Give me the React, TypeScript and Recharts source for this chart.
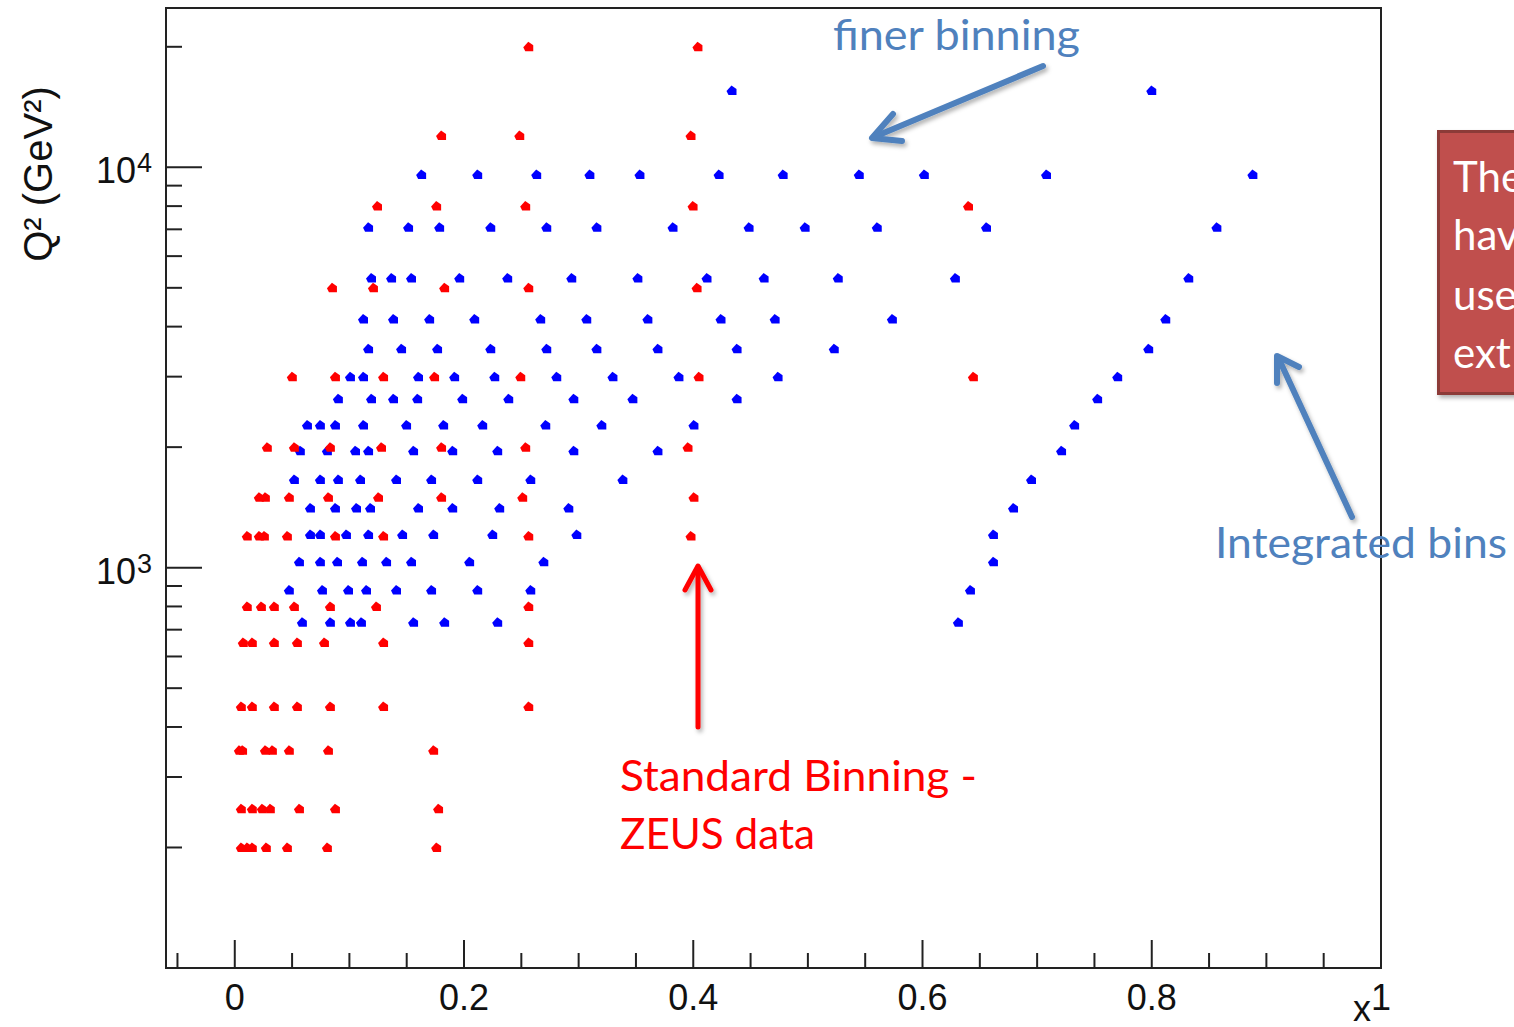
import React from 'react';
import { ScatterChart, Scatter, XAxis, YAxis, ReferenceArea } from 'recharts';

// ---------- data ----------
// Standard binning (ZEUS data), Q^2 rows in GeV^2
const redQ2 = [200, 250, 350, 450, 650, 800, 1200, 1500, 2000, 3000, 5000, 8000, 12000, 20000];
const redX200 = [0.0057, 0.0109, 0.0153, 0.0275, 0.0459, 0.0808, 0.1761];
const redX250 = [0.0057, 0.0153, 0.024, 0.031, 0.0564, 0.0878, 0.1778];
const redX350 = [0.004, 0.0068, 0.0267, 0.0328, 0.0476, 0.0817, 0.1735];
const redX450 = [0.0057, 0.0153, 0.0345, 0.0546, 0.0834, 0.1298, 0.2565];
const redX650 = [0.0074, 0.0153, 0.0345, 0.0546, 0.0782, 0.1298, 0.2565];
const redX800 = [0.0109, 0.0232, 0.0345, 0.052, 0.0834, 0.1236, 0.2565];
const redX1200 = [0.0109, 0.0214, 0.0258, 0.0459, 0.0878, 0.1298, 0.2565, 0.398];
const redX1500 = [0.0214, 0.0267, 0.0476, 0.0817, 0.1254, 0.1804, 0.2512, 0.4006];
const redX2000 = [0.0284, 0.052, 0.0834, 0.128, 0.1804, 0.2538, 0.3954];
const redX3000 = [0.0502, 0.0878, 0.1298, 0.1743, 0.2495, 0.405, 0.6444];
const redX5000 = [0.0852, 0.121, 0.1831, 0.2565, 0.4033];
const redX8000 = [0.1245, 0.1761, 0.2538, 0.3998, 0.6401];
const redX12000 = [0.1804, 0.2486, 0.398];
const redX20000 = [0.2565, 0.4041];
const redXRows = [redX200, redX250, redX350, redX450, redX650, redX800, redX1200, redX1500, redX2000, redX3000, redX5000, redX8000, redX12000, redX20000];

// Finer binning (incl. integrated bins at high x)
const blueQ2 = [730, 880, 1035, 1210, 1410, 1660, 1960, 2270, 2640, 3000, 3520, 4180, 5290, 7080, 9600, 15550];
const blueX730 = [0.059, 0.0834, 0.1009, 0.1105, 0.156, 0.1831, 0.2294, 0.6313];
const blueX880 = [0.0476, 0.0765, 0.0992, 0.1149, 0.1411, 0.1717, 0.2119, 0.2582, 0.6418];
const blueX1035 = [0.0564, 0.0747, 0.0896, 0.1114, 0.1324, 0.1542, 0.2049, 0.2696, 0.6619];
const blueX1210 = [0.066, 0.0747, 0.0974, 0.1167, 0.1464, 0.1735, 0.225, 0.2984, 0.6619];
const blueX1410 = [0.066, 0.0878, 0.1062, 0.1184, 0.1603, 0.1901, 0.2311, 0.2914, 0.6794];
const blueX1660 = [0.052, 0.0747, 0.0904, 0.1097, 0.1411, 0.1717, 0.2119, 0.2582, 0.3386, 0.6951];
const blueX1960 = [0.0572, 0.0808, 0.1053, 0.1167, 0.156, 0.1901, 0.2294, 0.2958, 0.3692, 0.7213];
const blueX2270 = [0.0634, 0.0747, 0.0878, 0.1123, 0.1499, 0.1822, 0.2163, 0.2713, 0.3202, 0.4006, 0.7327];
const blueX2640 = [0.0904, 0.1193, 0.1385, 0.1595, 0.1988, 0.239, 0.2958, 0.3473, 0.4382, 0.7528];
const blueX3000 = [0.1009, 0.1123, 0.1603, 0.1918, 0.2268, 0.2809, 0.3299, 0.3875, 0.474, 0.7703];
const blueX3520 = [0.1167, 0.1455, 0.1769, 0.2233, 0.2722, 0.3159, 0.3692, 0.4382, 0.523, 0.7973];
const blueX4180 = [0.1123, 0.1385, 0.17, 0.2093, 0.2669, 0.3071, 0.3604, 0.4242, 0.4714, 0.5737, 0.8122];
const blueX5290 = [0.1193, 0.1368, 0.1542, 0.1962, 0.2381, 0.294, 0.3517, 0.412, 0.4618, 0.5265, 0.6287, 0.8323];
const blueX7080 = [0.1167, 0.1516, 0.1787, 0.2233, 0.2722, 0.3159, 0.3823, 0.4487, 0.4976, 0.5605, 0.6558, 0.8568];
const blueX9600 = [0.163, 0.2119, 0.2634, 0.3098, 0.3535, 0.4225, 0.4784, 0.5448, 0.6016, 0.7082, 0.8882];
const blueX15550 = [0.4338, 0.8];
const blueXRows = [blueX730, blueX880, blueX1035, blueX1210, blueX1410, blueX1660, blueX1960, blueX2270, blueX2640, blueX3000, blueX3520, blueX4180, blueX5290, blueX7080, blueX9600, blueX15550];

// axis ticks
const xTicks = [-0.05, 0, 0.05, 0.1, 0.15, 0.2, 0.25, 0.3, 0.35, 0.4, 0.45, 0.5, 0.55, 0.6, 0.65, 0.7, 0.75, 0.8, 0.85, 0.9, 0.95, 1];
const xMajorLabels = ['0', '0.2', '0.4', '0.6', '0.8', '1'];
const yTicks = [200, 300, 400, 500, 600, 700, 800, 900, 1000, 2000, 3000, 4000, 5000, 6000, 7000, 8000, 9000, 10000, 20000];
const yMajor = [1000, 10000];

const redData = redQ2.flatMap((q, i) => redXRows[i].map((x) => ({ x, q })));
const blueData = blueQ2.flatMap((q, i) => blueXRows[i].map((x) => ({ x, q })));

const AXIS_FONT = 'Liberation Sans, Arial, Helvetica, sans-serif';
const NOTE_FONT = 'Lato, Open Sans, sans-serif';
const FRAME = '#222';
const NOTE_BLUE = '#4F81BD';

const makeMarker = (fill: string) => (props: any) => {
  const { cx, cy } = props;
  if (cx == null || cy == null) return <g />;
  const d = `M${cx - 5.5},${cy + 0.5} L${cx - 0.5},${cy - 5} L${cx + 4.5},${cy - 1.5} L${cx + 4.5},${cy + 4.5} L${cx - 3.5},${cy + 4.5} Z`;
  return <path d={d} fill={fill} />;
};

const YTick = (props: any) => {
  const { x, y, payload } = props;
  const v = payload.value;
  const major = yMajor.includes(v);
  const exp = Math.round(Math.log10(v));
  return (
    <g>
      <line x1={x} x2={x + (major ? 36 : 16)} y1={y} y2={y} stroke={FRAME} strokeWidth={2} />
      {major && (
        <g fontFamily={AXIS_FONT} fill="#111">
          <text x={x - 30} y={y + 16} textAnchor="end" fontSize={36}>10</text>
          <text x={x - 29} y={y + 5} textAnchor="start" fontSize={27}>{exp}</text>
        </g>
      )}
    </g>
  );
};

const XTick = (props: any) => {
  const { x, y, payload } = props;
  const v = payload.value;
  const major = Math.abs(v * 5 - Math.round(v * 5)) < 1e-6;
  const label = major ? xMajorLabels[Math.round(v * 5)] : '';
  return (
    <g>
      <line x1={x} x2={x} y1={y} y2={y - (major ? 28 : 15)} stroke={FRAME} strokeWidth={2} />
      {major && (
        <text x={x} y={y + 42} textAnchor="middle" fontSize={36} fontFamily={AXIS_FONT} fill="#111">{label}</text>
      )}
    </g>
  );
};

const Annotations = () => (
  <svg width={1514} height={1027} style={{ position: 'absolute', left: 0, top: 0, pointerEvents: 'none' }}>
    <defs>
      <filter id="shadow" x="-30%" y="-30%" width="160%" height="160%">
        <feDropShadow dx="2" dy="3" stdDeviation="2" floodColor="#000" floodOpacity="0.3" />
      </filter>
    </defs>
    {/* y-axis title */}
    <text transform="translate(52,174) rotate(-90)" textAnchor="middle" fontSize={40} fontFamily={AXIS_FONT} fill="#111">Q² (GeV²)</text>
    {/* x-axis title */}
    <text x={1362} y={1021} textAnchor="middle" fontSize={36} fontFamily={AXIS_FONT} fill="#111">x</text>

    {/* finer binning */}
    <text x={833} y={50} fontSize={42} fontFamily={NOTE_FONT} fill={NOTE_BLUE} textLength={247} lengthAdjust="spacingAndGlyphs">finer binning</text>
    <g filter="url(#shadow)" stroke={NOTE_BLUE} strokeWidth={6} strokeLinecap="round" strokeLinejoin="round" fill="none">
      <line x1={1043} y1={66} x2={874} y2={137} />
      <polyline points="893,114 872,138 902,141" />
    </g>

    {/* Integrated bins */}
    <text x={1215} y={558} fontSize={43} fontFamily={NOTE_FONT} fill={NOTE_BLUE} textLength={292} lengthAdjust="spacingAndGlyphs">Integrated bins</text>
    <g filter="url(#shadow)" stroke={NOTE_BLUE} strokeWidth={6} strokeLinecap="round" strokeLinejoin="round" fill="none">
      <line x1={1352} y1={517} x2={1278} y2={357} />
      <polyline points="1277,383 1277,356 1299,367" />
    </g>

    {/* Standard binning */}
    <text x={620} y={791} fontSize={42} fontFamily={NOTE_FONT} fill="#FF0000" textLength={357} lengthAdjust="spacingAndGlyphs">Standard Binning -</text>
    <text x={620} y={849} fontSize={42} fontFamily={NOTE_FONT} fill="#FF0000" textLength={195} lengthAdjust="spacingAndGlyphs">ZEUS data</text>
    <g filter="url(#shadow)" stroke="#FF0000" strokeWidth={5} strokeLinecap="round" strokeLinejoin="round" fill="none">
      <line x1={698} y1={727} x2={698} y2={567} />
      <polyline points="685,590 698,566 711,590" />
    </g>

    {/* red box at the right edge (continues beyond the picture) */}
    <g filter="url(#shadow)">
      <rect x={1438.5} y={131.5} width={110} height={262} fill="#C0504D" stroke="#8C3A38" strokeWidth={3} />
    </g>
    <g fontSize={42} fontFamily={NOTE_FONT} fill="#FFFFFF">
      <text x={1453} y={192}>The</text>
      <text x={1453} y={250}>hav</text>
      <text x={1453} y={310}>use</text>
      <text x={1453} y={368}>ext</text>
    </g>
  </svg>
);

export default function App() {
  return (
    <div style={{ position: 'absolute', left: 0, top: 0, width: 1514, height: 1027, background: '#fff', overflow: 'hidden' }}>
      <ScatterChart width={1514} height={1027} margin={{ top: 8, right: 133, bottom: 0, left: 0 }}>
        <XAxis
          type="number"
          dataKey="x"
          domain={[-0.06, 1]}
          allowDataOverflow
          ticks={xTicks}
          interval={0}
          tick={<XTick />}
          tickSize={0}
          tickMargin={0}
          tickLine={false}
          axisLine={false}
          height={59}
        />
        <YAxis
          type="number"
          dataKey="q"
          scale="log"
          domain={[100, 25000]}
          allowDataOverflow
          ticks={yTicks}
          interval={0}
          tick={<YTick />}
          tickSize={0}
          tickMargin={0}
          tickLine={false}
          axisLine={false}
          width={166}
        />
        <ReferenceArea x1={-0.06} x2={1} y1={100} y2={25000} fill="none" stroke={FRAME} strokeWidth={2} fillOpacity={0} />
        <Scatter data={blueData} fill="#0000FF" shape={makeMarker('#0000FF')} isAnimationActive={false} />
        <Scatter data={redData} fill="#FF0000" shape={makeMarker('#FF0000')} isAnimationActive={false} />
      </ScatterChart>
      <Annotations />
    </div>
  );
}
